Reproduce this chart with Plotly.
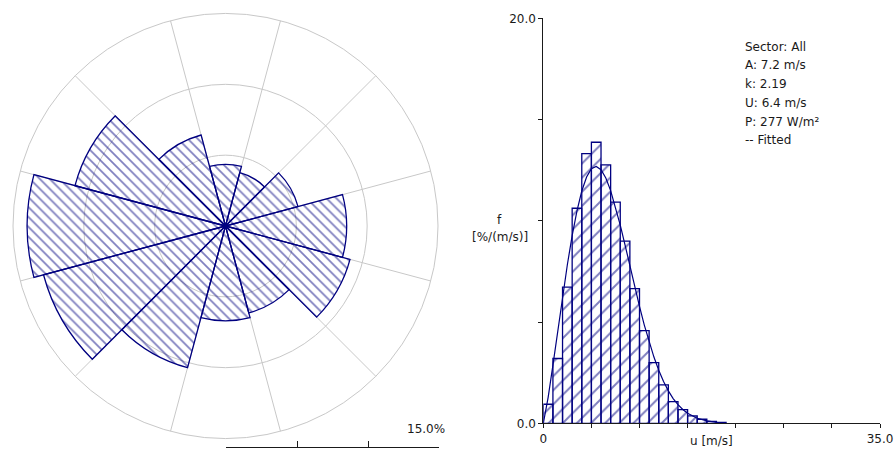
import plotly.graph_objects as go

# ---------------- data ----------------
# wind rose: 12 sectors, frequency in %
sector_dirs = [0, 30, 60, 90, 120, 150, 180, 210, 240, 270, 300, 330]
sector_freq = [4.35, 3.9, 5.3, 8.55, 9.1, 6.35, 6.7, 10.35, 13.3, 14.0, 11.0, 6.65]

# histogram: lower edge of 1 m/s speed bins, frequency in %/(m/s)
bin_lo = [0, 1, 2, 3, 4, 5, 6, 7, 8, 9, 10, 11, 12, 13, 14, 15, 16, 17, 18]
bin_freq = [0.94, 3.2, 6.72, 10.62, 13.32, 13.88, 12.76, 10.92, 9.0, 6.65,
            4.58, 3.0, 1.9, 1.07, 0.68, 0.37, 0.2, 0.1, 0.05]

# fitted curve
fit_u = [0, 0.5, 1, 1.5, 2, 2.5, 3, 3.5, 4, 4.5, 5, 5.5, 6, 6.5, 7, 7.5, 8, 8.5,
         9, 9.5, 10, 10.5, 11, 11.5, 12, 12.5, 13, 13.5, 14, 14.5, 15, 16, 17, 18]
fit_f = [0.0, 1.27, 2.87, 4.55, 6.24, 7.83, 9.27, 10.49, 11.47, 12.16, 12.57, 12.68,
         12.52, 12.11, 11.49, 10.70, 9.79, 8.80, 7.77, 6.75, 5.77, 4.85, 4.01, 3.27,
         2.62, 2.06, 1.60, 1.22, 0.92, 0.68, 0.50, 0.25, 0.12, 0.05]

info_lines = ["Sector: All", "A: 7.2 m/s", "k: 2.19", "U: 6.4 m/s", "P: 277 W/m²", "-- Fitted"]

rose_max = 15
rose_rings = [5, 10, 15]
spokes = [15, 45, 75, 105, 135, 165, 195, 225, 255, 285, 315, 345]

hist_xticks = [0, 5, 10, 15, 20, 25, 30, 35]
hist_xlabels = ["0", "", "", "", "", "", "", "35.0"]
hist_yticks = [0, 5, 10, 15, 20]
hist_ylabels = ["0.0", "", "", "", "20.0"]

# ---------------- styling ----------------
W, H = 895, 449
NAVY = "#000080"
GRID = "#c8c8c8"
TXT = "#1a1a1a"
FONT = "DejaVu Sans"


def px(x):
    return x / W


def py(y):
    return 1 - y / H


fig = go.Figure()

fig.add_trace(go.Barpolar(
    r=sector_freq, theta=sector_dirs, width=[30] * len(sector_dirs),
    marker=dict(color="rgba(0,0,0,0)", line=dict(color=NAVY, width=1.3),
                pattern=dict(shape="\\", fgcolor=NAVY, bgcolor="rgba(0,0,0,0)",
                             size=7, solidity=0.25)),
    hoverinfo="skip", showlegend=False,
))

fig.add_trace(go.Bar(
    x=bin_lo, y=bin_freq, offset=0, width=1, xaxis="x2", yaxis="y2",
    marker=dict(color="rgba(0,0,0,0)", line=dict(color=NAVY, width=1.3),
                pattern=dict(shape="/", fgcolor=NAVY, bgcolor="rgba(0,0,0,0)",
                             size=10, solidity=0.2)),
    hoverinfo="skip", showlegend=False,
))

fig.add_trace(go.Scatter(
    x=fit_u, y=fit_f, mode="lines", xaxis="x2", yaxis="y2",
    line=dict(color=NAVY, width=1.2), hoverinfo="skip", showlegend=False,
))

# invisible trace to carry the scale-bar axis
fig.add_trace(go.Scatter(
    x=[0, rose_max], y=[0, 0], mode="none", xaxis="x3", yaxis="y3",
    hoverinfo="skip", showlegend=False,
))

annotations = []
line_y0, line_dy = 46.7, 18.7
for i, t in enumerate(info_lines):
    annotations.append(dict(text=t, xref="paper", yref="paper", x=px(743), y=py(line_y0 + i * line_dy),
                            xanchor="left", yanchor="middle", showarrow=False,
                            font=dict(family=FONT, size=12, color=TXT)))
annotations += [
    dict(text="f", xref="paper", yref="paper", x=px(499), y=py(220), xanchor="center",
         yanchor="middle", showarrow=False, font=dict(family=FONT, size=12, color=TXT)),
    dict(text="[%/(m/s)]", xref="paper", yref="paper", x=px(500), y=py(237), xanchor="center",
         yanchor="middle", showarrow=False, font=dict(family=FONT, size=12, color=TXT)),
    dict(text="u [m/s]", xref="x2", yref="paper", x=17.5, y=py(441), xanchor="center",
         yanchor="middle", showarrow=False, font=dict(family=FONT, size=12, color=TXT)),
    dict(text="%.1f%%" % rose_max, xref="paper", yref="paper", x=px(447), y=py(428.5),
         xanchor="right", yanchor="middle", showarrow=False,
         font=dict(family=FONT, size=12, color=TXT)),
]

fig.update_layout(
    width=W, height=H,
    margin=dict(l=0, r=0, t=0, b=0),
    paper_bgcolor="white", plot_bgcolor="rgba(0,0,0,0)",
    font=dict(family=FONT, size=12, color=TXT),
    showlegend=False,
    polar=dict(
        domain=dict(x=[px(13), px(438)], y=[py(438.5), py(13.5)]),
        bgcolor="rgba(0,0,0,0)",
        radialaxis=dict(range=[0, rose_max], tickmode="array", tickvals=rose_rings,
                        showticklabels=False, ticks="", showline=False,
                        gridcolor=GRID, gridwidth=1),
        angularaxis=dict(direction="clockwise", rotation=90, tickmode="array",
                         tickvals=spokes, showticklabels=False, ticks="",
                         showline=True, linecolor=GRID, linewidth=1,
                         gridcolor=GRID, gridwidth=1),
    ),
    xaxis2=dict(domain=[px(543.3), px(880)], anchor="y2", range=[0, 35],
                tickmode="array", tickvals=hist_xticks, ticktext=hist_xlabels,
                ticks="outside", ticklen=4, tickcolor=TXT, showline=True,
                linecolor=TXT, linewidth=1, showgrid=False, zeroline=False,
                tickfont=dict(family=FONT, size=12, color=TXT), automargin=False,
                fixedrange=True),
    yaxis2=dict(domain=[py(423.3), py(18.3)], anchor="x2", range=[0, 20],
                tickmode="array", tickvals=hist_yticks, ticktext=hist_ylabels,
                ticks="outside", ticklen=4, tickcolor=TXT, showline=True,
                linecolor=TXT, linewidth=1, showgrid=False, zeroline=False,
                tickfont=dict(family=FONT, size=12, color=TXT), automargin=False,
                fixedrange=True),
    xaxis3=dict(domain=[px(226), px(439.3)], anchor="y3", range=[0, rose_max],
                tickmode="array", tickvals=[0, 5, 10, 15], ticks="inside", ticklen=6,
                tickcolor=TXT, showline=True, linecolor=TXT, linewidth=1,
                showticklabels=False, showgrid=False, zeroline=False,
                automargin=False, fixedrange=True),
    yaxis3=dict(domain=[py(447), py(440)], anchor="x3", range=[0, 1], visible=False,
                fixedrange=True),
    annotations=annotations,
)

fig.write_html(
    "out.html",
    config={"displayModeBar": False},
    post_script="document.body.style.margin='0';document.body.style.padding='0';"
                "document.body.style.overflow='hidden';",
)
